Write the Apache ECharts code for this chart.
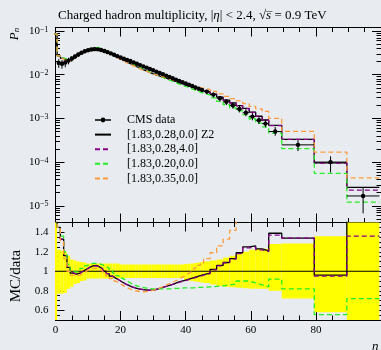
<!DOCTYPE html>
<html><head><meta charset="utf-8">
<script src="https://cdn.jsdelivr.net/npm/echarts@6/dist/echarts.min.js"></script>
<style>html,body{margin:0;padding:0;background:#e8ecf0}#c{width:381px;height:350px}</style>
</head><body><div id="c"></div>
<script>
// ---- data ----
const binEdges = [-0.5,0.5,1.5,2.5,3.5,4.5,5.5,6.5,7.5,8.5,9.5,10.5,11.5,12.5,13.5,14.5,15.5,16.5,17.5,18.5,19.5,
  20.5,21.5,22.5,23.5,24.5,25.5,26.5,27.5,28.5,29.5,30.5,31.5,32.5,33.5,34.5,35.5,36.5,37.5,38.5,39.5,
  40.5,41.5,42.5,43.5,44.5,45.5,47.5,49.5,51.5,53.5,55.5,57.5,59.5,61.5,63.5,65.5,69.5,79.5,89.5,99.5];
const dataValues = [0.050,0.0186,0.0178,0.0190,0.0210,0.0235,0.0262,0.0290,0.0318,0.0343,
  0.0364,0.0378,0.0384,0.0380,0.0366,0.0348,0.0328,0.0307,0.0286,0.0266,
  0.0248,0.0232,0.0217,0.0205,0.0191,0.0178,0.0166,0.0155,0.0145,0.0135,
  0.0126,0.0117,0.0109,0.0102,0.0095,0.0089,0.0083,0.0077,0.0072,0.0067,
  0.0063,0.0059,0.0055,0.0051,0.0048,0.0045,
  0.0041,0.0035,0.0029,0.0024,0.0020,0.00165,0.00135,0.0011,0.00091,0.00076,
  0.00050,0.000248,0.000100,0.0000168];
const errUp = [0.6,0.22,0.21,0.20,0.16,0.12,0.11,0.10,0.095,0.09,
  0.08,0.08,0.08,0.08,0.08,0.08,0.08,0.08,0.08,0.08,
  0.07,0.07,0.07,0.07,0.07,0.07,0.07,0.07,0.07,0.07,
  0.07,0.07,0.07,0.07,0.07,0.07,0.07,0.07,0.07,0.07,
  0.075,0.078,0.08,0.085,0.09,0.095,
  0.10,0.11,0.12,0.14,0.16,0.18,0.20,0.22,0.23,0.23,
  0.28,0.285,0.36,0.6];
const errDown = [0.6,0.23,0.23,0.22,0.18,0.16,0.13,0.12,0.10,0.095,
  0.075,0.075,0.075,0.075,0.075,0.075,0.075,0.075,0.075,0.075,
  0.07,0.07,0.07,0.07,0.07,0.07,0.07,0.07,0.07,0.07,
  0.07,0.07,0.07,0.07,0.07,0.07,0.07,0.07,0.07,0.07,
  0.09,0.095,0.10,0.105,0.11,0.115,
  0.12,0.135,0.15,0.16,0.165,0.17,0.175,0.18,0.18,0.18,
  0.20,0.28,0.42,0.6];
// MC / data ratios
const ratioZ2 = [1.70,1.45,1.33,1.16,1.04,0.98,0.97,0.98,1.00,1.02,
  1.04,1.055,1.06,1.045,1.025,1.00,0.975,0.95,0.93,0.91,
  0.89,0.87,0.855,0.84,0.83,0.82,0.815,0.81,0.805,0.805,
  0.81,0.82,0.83,0.84,0.85,0.86,0.87,0.885,0.895,0.905,
  0.915,0.925,0.935,0.945,0.955,0.965,
  0.98,1.02,1.06,1.09,1.13,1.19,1.25,1.26,1.23,1.21,
  1.39,1.34,0.96,1.58];
const ratio4 = [1.70,1.45,1.33,1.16,1.04,0.985,0.97,0.98,1.00,1.02,
  1.04,1.05,1.055,1.045,1.025,1.00,0.975,0.95,0.93,0.91,
  0.89,0.87,0.855,0.84,0.83,0.82,0.815,0.81,0.805,0.805,
  0.81,0.82,0.83,0.84,0.85,0.86,0.87,0.88,0.89,0.90,
  0.91,0.92,0.93,0.94,0.95,0.96,
  0.975,1.015,1.055,1.085,1.125,1.18,1.24,1.25,1.22,1.20,
  1.37,1.34,0.95,1.36];
const ratio020 = [1.70,1.45,1.36,1.20,1.07,1.00,0.99,1.00,1.03,1.055,
  1.07,1.08,1.08,1.075,1.065,1.05,1.03,1.005,0.98,0.955,
  0.93,0.91,0.89,0.87,0.855,0.845,0.835,0.83,0.825,0.82,
  0.82,0.82,0.82,0.82,0.82,0.82,0.825,0.825,0.825,0.83,
  0.83,0.83,0.83,0.835,0.835,0.835,
  0.84,0.845,0.85,0.86,0.87,0.90,0.90,0.88,0.86,0.84,
  0.92,0.82,0.555,0.72];
const ratio035 = [1.70,1.45,1.30,1.13,1.00,0.96,0.955,0.96,0.98,1.00,
  1.02,1.03,1.03,1.02,1.00,0.975,0.95,0.925,0.90,0.88,
  0.86,0.84,0.825,0.81,0.80,0.795,0.79,0.79,0.795,0.80,
  0.81,0.82,0.835,0.85,0.865,0.88,0.895,0.91,0.93,0.95,
  0.97,0.99,1.01,1.035,1.06,1.085,
  1.13,1.19,1.26,1.33,1.42,1.52,1.62,1.72,1.82,1.90,
  2.00,2.03,1.69,2.60];
const seriesNames = ['CMS data','[1.83,0.28,0.0] Z2','[1.83,0.28,4.0]','[1.83,0.20,0.0]','[1.83,0.35,0.0]'];
const logTickExponents = [-5,-4,-3,-2,-1];
const ratioTickValues = [0.6,0.8,1.0,1.2,1.4];
const ratioTickLabels = ['0.6','0.8','1','1.2','1.4'];
const xTickLabels = ['0','20','40','60','80'];

// ---- build ----
const L = Math.log10;
const yTopMin = -5.382, yTopMax = -0.92;
const FONT = 'Liberation Serif';
const minorLog = [];
for (let d = -6; d <= -1; d++) for (let k = 2; k <= 9; k++) { const v = L(k) + d; if (v > yTopMin && v < yTopMax) minorLog.push(v); }
const ratioMinor = [];
for (let k = 11; k <= 29; k++) { const v = k * 0.05; if (k % 4 !== 0) ratioMinor.push(+v.toFixed(2)); }
const ratioMinorF = ratioMinor.filter(v => !ratioTickValues.some(t => Math.abs(t - v) < 1e-6));

function steps(vals, useLog) {
  const out = [];
  vals.forEach((v, i) => { const y = useLog ? L(v) : v; out.push([binEdges[i], y], [binEdges[i + 1], y]); });
  return out;
}
const mcVals = r => r.map((x, i) => x * dataValues[i]);

const lineDefs = [
  {name: seriesNames[1], r: ratioZ2, color: '#000000', type: 'solid'},
  {name: seriesNames[2], r: ratio4, color: '#8b008b', type: [5, 3]},
  {name: seriesNames[3], r: ratio020, color: '#22ee22', type: [5, 3]},
  {name: seriesNames[4], r: ratio035, color: '#ff9a3c', type: [5, 3]}
];

const series = [];
// yellow band
series.push({
  type: 'custom', xAxisIndex: 3, yAxisIndex: 4, clip: true, z: 1, silent: true,
  data: dataValues.map((v, i) => [binEdges[i], binEdges[i + 1], 1 - errDown[i], 1 + errUp[i]]),
  encode: {x: [0, 1], y: [2, 3]},
  renderItem: (p, api) => {
    const a = api.coord([api.value(0), api.value(2)]);
    const b = api.coord([api.value(1), api.value(3)]);
    return {type: 'rect', shape: {x: a[0], y: b[1], width: b[0] - a[0], height: a[1] - b[1]}, style: {fill: '#ffff00'}};
  }
});
// reference line at 1
series.push({type: 'line', xAxisIndex: 3, yAxisIndex: 4, z: 2, symbol: 'none', silent: true,
  data: [[binEdges[0], 1], [binEdges[binEdges.length - 1], 1]], lineStyle: {color: '#000', width: 1}});
lineDefs.forEach((d, k) => {
  series.push({type: 'line', name: d.name, xAxisIndex: 0, yAxisIndex: 0, z: 3 + k, symbol: 'none', clip: true,
    data: steps(mcVals(d.r), true), lineStyle: {color: d.color, width: 1.3, type: d.type}, itemStyle: {color: d.color}});
  series.push({type: 'line', name: d.name, xAxisIndex: 3, yAxisIndex: 4, z: 3 + k, symbol: 'none', clip: true,
    data: steps(d.r, false), lineStyle: {color: d.color, width: 1.3, type: d.type}, itemStyle: {color: d.color}});
});
// data points
series.push({
  type: 'custom', name: seriesNames[0], xAxisIndex: 0, yAxisIndex: 0, clip: true, z: 10,
  itemStyle: {color: '#000'},
  data: dataValues.map((v, i) => [(binEdges[i] + binEdges[i + 1]) / 2, L(v), binEdges[i], binEdges[i + 1], L(v * (1 + errUp[i])), L(v * (1 - errDown[i]))]),
  encode: {x: [0, 2, 3], y: [1, 4, 5]},
  renderItem: (p, api) => {
    const c = api.coord([api.value(0), api.value(1)]);
    const l = api.coord([api.value(2), api.value(1)]);
    const r = api.coord([api.value(3), api.value(1)]);
    const t = api.coord([api.value(0), api.value(4)]);
    const b = api.coord([api.value(0), api.value(5)]);
    return {type: 'group', children: [
      {type: 'line', shape: {x1: l[0], y1: l[1], x2: r[0], y2: r[1]}, style: {stroke: '#000', lineWidth: 1}},
      {type: 'line', shape: {x1: t[0], y1: t[1], x2: b[0], y2: b[1]}, style: {stroke: '#000', lineWidth: 1}},
      {type: 'circle', shape: {cx: c[0], cy: c[1], r: 2.2}, style: {fill: '#000'}}
    ]};
  }
});

const tickLine = {color: '#000', width: 1};
const xBase = {type: 'value', min: 0, max: 100, interval: 20,
  axisLine: {show: true, onZero: false, lineStyle: tickLine},
  axisTick: {show: true, inside: true, length: 9, lineStyle: tickLine},
  minorTick: {show: true, splitNumber: 4, length: 4.5, lineStyle: tickLine},
  axisLabel: {show: false}, splitLine: {show: false}, minorSplitLine: {show: false}};
const xAxis = [
  Object.assign({}, xBase, {gridIndex: 0, position: 'bottom'}),
  Object.assign({}, xBase, {gridIndex: 0, position: 'top'}),
  Object.assign({}, xBase, {gridIndex: 1, position: 'top'}),
  Object.assign({}, xBase, {gridIndex: 1, position: 'bottom',
    axisLabel: {show: true, margin: 5, fontFamily: FONT, fontSize: 11, color: '#000', showMaxLabel: false,
      formatter: v => xTickLabels[Math.round(v / 20)] || ''}})
];
function yAx(grid, pos, min, max, ticks, len, label) {
  return {type: 'value', gridIndex: grid, position: pos, min: min, max: max,
    axisLine: {show: true, onZero: false, lineStyle: tickLine},
    axisTick: {show: true, inside: true, length: len, customValues: ticks, lineStyle: tickLine},
    axisLabel: label || {show: false}, splitLine: {show: false}};
}
const topMajor = logTickExponents.slice();
const yAxis = [
  yAx(0, 'left', yTopMin, yTopMax, topMajor, 9, {show: true, customValues: topMajor, margin: 7, color: '#000',
    formatter: v => '{b|10}{s|\u2212' + Math.round(-v) + '}',
    rich: {b: {fontFamily: FONT, fontSize: 11, color: '#000'}, s: {fontFamily: FONT, fontSize: 8, color: '#000', verticalAlign: 'top'}}}),
  yAx(0, 'left', yTopMin, yTopMax, minorLog, 4.5),
  yAx(0, 'right', yTopMin, yTopMax, topMajor, 9),
  yAx(0, 'right', yTopMin, yTopMax, minorLog, 4.5),
  yAx(1, 'left', 0.5, 1.5, ratioTickValues, 9, {show: true, customValues: ratioTickValues, margin: 7, color: '#000',
    fontFamily: FONT, fontSize: 11,
    formatter: v => { const i = ratioTickValues.findIndex(t => Math.abs(t - v) < 1e-6); return i >= 0 ? ratioTickLabels[i] : ''; }}),
  yAx(1, 'left', 0.5, 1.5, ratioMinorF, 4.5),
  yAx(1, 'right', 0.5, 1.5, ratioTickValues, 9),
  yAx(1, 'right', 0.5, 1.5, ratioMinorF, 4.5)
];

const noSymbol = {opacity: 0};
const chart = echarts.init(document.getElementById('c'), null, {renderer: 'canvas'});
chart.setOption({
  animation: false,
  backgroundColor: '#e8ecf0',
  title: {text: '{r|Charged hadron multiplicity, |}{i|\u03b7}{r|| < 2.4, \u221a}{i|s\u0305}{r| = 0.9 TeV}',
    left: 53, top: 4,
    textStyle: {fontWeight: 'normal', rich: {r: {fontFamily: FONT, fontSize: 13, fontWeight: 'normal', color: '#000'}, i: {fontFamily: FONT, fontSize: 13, fontWeight: 'normal', fontStyle: 'italic', color: '#000'}}}},
  grid: [
    {left: 55.5, top: 27.5, width: 329.5, height: 195},
    {left: 55.5, top: 222.5, width: 329.5, height: 97.5}
  ],
  xAxis: xAxis, yAxis: yAxis,
  legend: {orient: 'vertical', left: 94, top: 113, padding: 0, itemWidth: 16, itemHeight: 8, itemGap: 0.6,
    selectedMode: false,
    textStyle: {fontFamily: FONT, fontSize: 12, color: '#000', lineHeight: 14, padding: [0, 0, 0, 11]},
    data: [{name: seriesNames[0], icon: 'path://M0,3.3H16V4.7H0Z M5.6,4A2.4,2.4 0 1 1 10.4,4A2.4,2.4 0 1 1 5.6,4Z',
        itemStyle: {color: '#000', borderWidth: 0, opacity: 1, decal: 'none'}},
      {name: seriesNames[1], itemStyle: noSymbol},
      {name: seriesNames[2], itemStyle: noSymbol},
      {name: seriesNames[3], itemStyle: noSymbol},
      {name: seriesNames[4], itemStyle: noSymbol}]},
  graphic: [
    {type: 'text', x: 15, y: 34, rotation: Math.PI / 2,
      style: {text: '{p|P}{n|n}', align: 'center', verticalAlign: 'middle',
        rich: {p: {fontFamily: FONT, fontSize: 13, fontStyle: 'italic', fill: '#000'}, n: {fontFamily: FONT, fontSize: 9, fontStyle: 'italic', fill: '#000', verticalAlign: 'bottom'}}}},
    {type: 'text', x: 16, y: 276, rotation: Math.PI / 2,
      style: {text: 'MC/data', align: 'center', verticalAlign: 'middle', fontFamily: FONT, fontSize: 15, fill: '#000'}},
    {type: 'text', x: 372, y: 340,
      style: {text: 'n', fontFamily: FONT, fontSize: 13, fontStyle: 'italic', fill: '#000'}}
  ],
  series: series
});
</script></body></html>
